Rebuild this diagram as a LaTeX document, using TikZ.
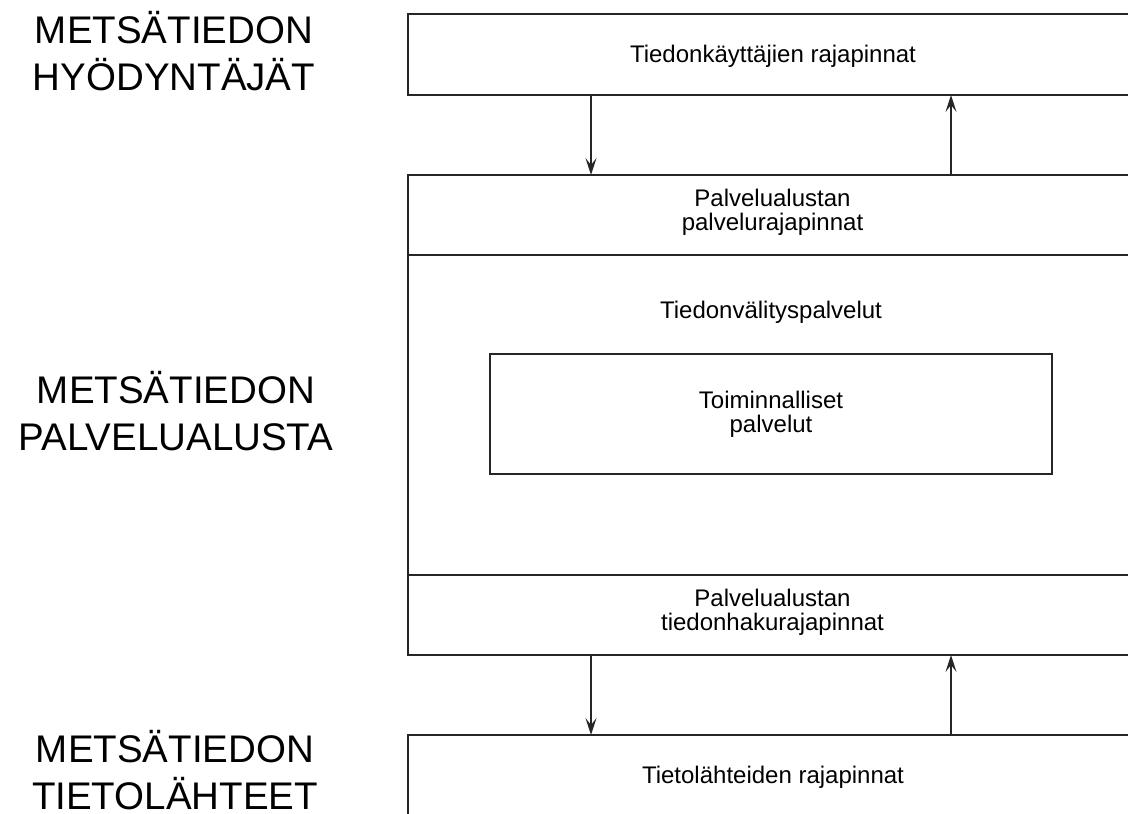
\documentclass[tikz,border=0pt]{standalone}
\usepackage{fontspec}
\setmainfont{Liberation Sans}
\usetikzlibrary{arrows.meta}
% centred multi-line text whose reference point is the first baseline
\newcommand\txtstack[1]{\parbox[t]{14cm}{\centering #1}}
\begin{document}
\begin{tikzpicture}[x=1pt,y=-1pt,
  box/.style={draw=black!85, line width=1.5pt, minimum width=729pt,
              inner sep=0pt, outer sep=0pt},
  lbl/.style={font=\fontsize{24}{24}\selectfont, anchor=base, inner sep=0pt},
  side/.style={font=\fontsize{38.5}{47.5}\selectfont, anchor=base, inner sep=0pt},
  arr/.style={line width=1.5pt, draw=black!85, fill=black!85,
              -{Stealth[length=17pt,width=11pt,inset=7pt]}}]
\useasboundingbox (0,0) rectangle (1128,814);

% layer labels on the left
\node[side] (users) at (174,43) {\txtstack{METSÄTIEDON\\HYÖDYNTÄJÄT}};
\node[side] (platform) at (176,403) {\txtstack{METSÄTIEDON\\PALVELUALUSTA}};
\node[side] (sources) at (175,762) {\txtstack{METSÄTIEDON\\TIETOLÄHTEET}};

% stacked interface boxes (right edges run past the page)
\node[box, minimum height=81pt] (ui)     at (772.5,54.5) {};
\node[box, minimum height=80pt] (api)    at (772.5,215) {};
\node[box, minimum height=320pt] (core)  at (772.5,415) {};
\node[box, minimum width=562pt, minimum height=120pt] (func) at (771,414) {};
\node[box, minimum height=80pt] (fetch)  at (772.5,615) {};
\node[box, minimum height=100pt] (src)   at (772.5,785) {};

% box texts
\node[lbl] (uiT)    at (773,62)  {Tiedonkäyttäjien rajapinnat};
\node[lbl] (apiT)   at (772.5,206) {\txtstack{Palvelualustan\\palvelurajapinnat}};
\node[lbl] (coreT)  at (771,318) {Tiedonvälityspalvelut};
\node[lbl] (funcT)  at (771,408)   {\txtstack{Toiminnalliset\\palvelut}};
\node[lbl] (fetchT) at (772.5,606) {\txtstack{Palvelualustan\\tiedonhakurajapinnat}};
\node[lbl] (srcT)   at (773,783) {Tietolähteiden rajapinnat};

% request / response arrows
\draw[arr] ([xshift=-181.5pt]ui.south) -- ([xshift=-181.5pt]api.north);
\draw[arr] ([xshift=178.5pt]api.north) -- ([xshift=178.5pt]ui.south);
\draw[arr] ([xshift=-181.5pt]fetch.south) -- ([xshift=-181.5pt]src.north);
\draw[arr] ([xshift=178.5pt]src.north) -- ([xshift=178.5pt]fetch.south);
\end{tikzpicture}
\end{document}
